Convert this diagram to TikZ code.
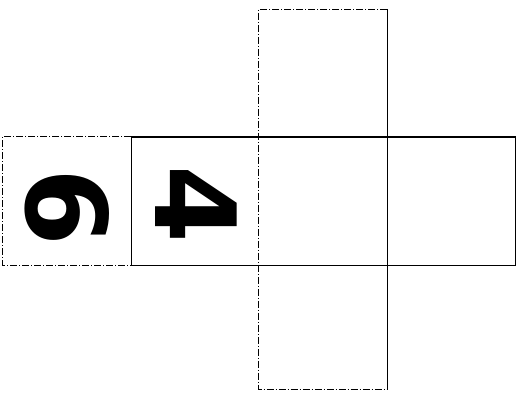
\documentclass[tikz,border=0pt]{standalone}
\usepackage{fontspec}
\usepackage{graphicx}
\setmainfont{DejaVu Sans}

\begin{document}
\begin{tikzpicture}[x=1pt,y=1pt,
  face/.style={minimum width=128pt,minimum height=128pt,inner sep=0pt},
  digit/.style={inner sep=0pt,font=\fontsize{112}{112}\selectfont\bfseries},
  edge/.style={line width=1.4pt},
  worn/.style={line width=1.1pt,dash pattern=on 7pt off 2pt on 1pt off 2pt}]
  \useasboundingbox (0,0) rectangle (522,392);
  % row of four faces
  \node[face] (six)  at (67,191)  {};
  \node[face] (four) at (195,191) {};
  \node[face] (mid)  at (323,191) {};
  \node[face] (east) at (451,191) {};
  % column through the third face
  \node[face] (up)   at (323,318.5) {};
  \node[face,minimum height=124pt] (down) at (323,65) {};
  % the numbers, lying on their side
  \node[digit] (n6) at ([xshift=0.5pt,yshift=-6pt]six.center) {\rotatebox{-90}{6}};
  \node[digit] (n4) at ([xshift=1pt,yshift=-3pt]four.center) {\rotatebox{-90}{4}};

  \draw[worn] (six.north east) -- (six.north west) -- (six.south west) -- (six.south east);
  \draw[edge] (six.north east) -- (east.north east) -- (east.south east) -- (six.south east);
  \draw[edge] (six.north east) -- (six.south east);
  \draw[edge] (up.north east) -- (down.south east);
  \draw[worn] (up.north east) -- (up.north west) -- (down.south west) -- (down.south east);
\end{tikzpicture}
\end{document}
